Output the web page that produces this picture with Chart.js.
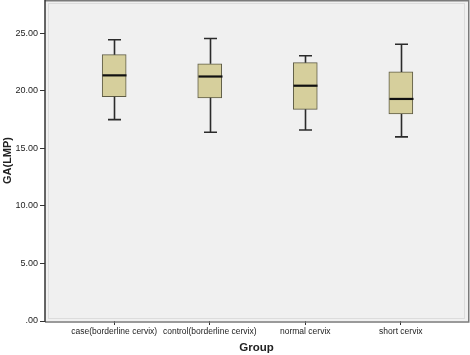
<!DOCTYPE html>
<html>
<head>
<meta charset="utf-8">
<script src="https://cdn.jsdelivr.net/npm/chart.js@4"></script>
<style>
html,body{margin:0;padding:0;background:#fff;}
#wrap{width:470px;height:355px;}
</style>
</head>
<body>
<div id="wrap"><canvas id="c" width="470" height="355"></canvas></div>
<script>
const categories = ["case(borderline cervix)", "control(borderline cervix)", "normal cervix", "short cervix"];
const whiskerLow = [17.5, 16.4, 16.6, 16.0];
const q1 = [19.5, 19.4, 18.4, 18.0];
const median = [21.35, 21.25, 20.45, 19.3];
const q3 = [23.15, 22.35, 22.45, 21.65];
const whiskerHigh = [24.45, 24.55, 23.05, 24.05];
const yTicks = [0, 5, 10, 15, 20, 25];

const FONT = "'Liberation Sans', Arial, sans-serif";

const plotBg = {
  id: 'plotBg',
  beforeDraw(chart) {
    const {ctx, chartArea: a} = chart;
    ctx.save();
    ctx.fillStyle = '#f0f0f0';
    ctx.fillRect(a.left, a.top, a.right - a.left, a.bottom - a.top);
    ctx.restore();
  },
  afterDraw(chart) {
    const {ctx, chartArea: a} = chart;
    ctx.save();
    ctx.strokeStyle = '#dcdcdc';
    ctx.lineWidth = 1;
    ctx.strokeRect(a.left + 3.5, a.top + 3.5, a.right - a.left - 7, a.bottom - a.top - 6);
    ctx.strokeStyle = '#7a7a7a';
    ctx.lineWidth = 1.5;
    ctx.beginPath();
    ctx.moveTo(a.left, a.top + 0.75);
    ctx.lineTo(a.right + 0.75, a.top + 0.75);
    ctx.lineTo(a.right + 0.75, a.bottom + 1);
    ctx.lineTo(a.left, a.bottom + 1);
    ctx.stroke();
    ctx.strokeStyle = '#333';
    ctx.lineWidth = 1.5;
    ctx.beginPath();
    ctx.moveTo(a.left, a.top);
    ctx.lineTo(a.left, a.bottom + 1);
    ctx.stroke();
    ctx.restore();
  }
};

const boxParts = {
  id: 'boxParts',
  afterDatasetsDraw(chart) {
    const {ctx} = chart;
    const xs = chart.scales.x, ys = chart.scales.y;
    ctx.save();
    for (let i = 0; i < categories.length; i++) {
      const cx = Math.round(xs.getPixelForValue(i)) + 0.5;
      const capHalf = 6.5;
      const yLo = ys.getPixelForValue(whiskerLow[i]);
      const yQ1 = ys.getPixelForValue(q1[i]);
      const yQ3 = ys.getPixelForValue(q3[i]);
      const yHi = ys.getPixelForValue(whiskerHigh[i]);
      const yMed = ys.getPixelForValue(median[i]);
      ctx.strokeStyle = '#2b2b2b';
      ctx.lineWidth = 1.6;
      ctx.beginPath();
      ctx.moveTo(cx, yHi); ctx.lineTo(cx, yQ3);
      ctx.moveTo(cx, yQ1); ctx.lineTo(cx, yLo);
      ctx.moveTo(cx - capHalf, yHi); ctx.lineTo(cx + capHalf, yHi);
      ctx.moveTo(cx - capHalf, yLo); ctx.lineTo(cx + capHalf, yLo);
      ctx.stroke();
      ctx.strokeStyle = '#111';
      ctx.lineWidth = 2.2;
      ctx.beginPath();
      ctx.moveTo(cx - 12, yMed); ctx.lineTo(cx + 12, yMed);
      ctx.stroke();
    }
    ctx.restore();
  }
};

new Chart(document.getElementById('c'), {
  type: 'bar',
  data: {
    datasets: [{
      data: categories.map((c, i) => ({x: i, y: [q1[i], q3[i]]})),
      backgroundColor: '#d6cf9c',
      borderColor: '#5e5b45',
      borderWidth: 1,
      borderSkipped: false,
      barThickness: 24
    }]
  },
  options: {
    responsive: false,
    animation: false,
    events: [],
    layout: {padding: {left: 0, right: 2, top: 0, bottom: 0}},
    plugins: {legend: {display: false}, tooltip: {enabled: false}},
    scales: {
      x: {
        type: 'linear',
        offset: false,
        min: -0.724,
        max: 3.703,
        afterBuildTicks(scale) { scale.ticks = categories.map((c, i) => ({value: i})); },
        afterFit(scale) { scale.height = 34; scale.paddingLeft = 0; scale.paddingRight = 0; },
        grid: {offset: false, drawOnChartArea: false, drawTicks: true, tickLength: 4, color: '#333', lineWidth: 1},
        border: {display: false},
        ticks: {
          callback: (v) => categories[v],
          font: {family: FONT, size: 8.5},
          color: '#222',
          padding: 2,
          maxRotation: 0,
          autoSkip: false
        },
        title: {
          display: true,
          text: 'Group',
          font: {family: FONT, size: 11.5, weight: 'bold'},
          color: '#222',
          padding: {top: 5, bottom: 0}
        }
      },
      y: {
        min: 0,
        max: 27.9,
        afterBuildTicks(scale) { scale.ticks = yTicks.map(v => ({value: v})); },
        afterFit(scale) { scale.width = 45; scale.paddingTop = 0; scale.paddingBottom = 0; },
        grid: {drawOnChartArea: false, drawTicks: true, tickLength: 5, color: '#333', lineWidth: 1},
        border: {display: false},
        ticks: {
          callback: (v) => v === 0 ? '.00' : v.toFixed(2),
          font: {family: FONT, size: 9},
          color: '#222',
          padding: 2
        },
        title: {
          display: true,
          text: 'GA(LMP)',
          font: {family: FONT, size: 11, weight: 'bold'},
          color: '#222',
          padding: {top: 1, bottom: 0}
        }
      }
    }
  },
  plugins: [plotBg, boxParts]
});
</script>
</body>
</html>
